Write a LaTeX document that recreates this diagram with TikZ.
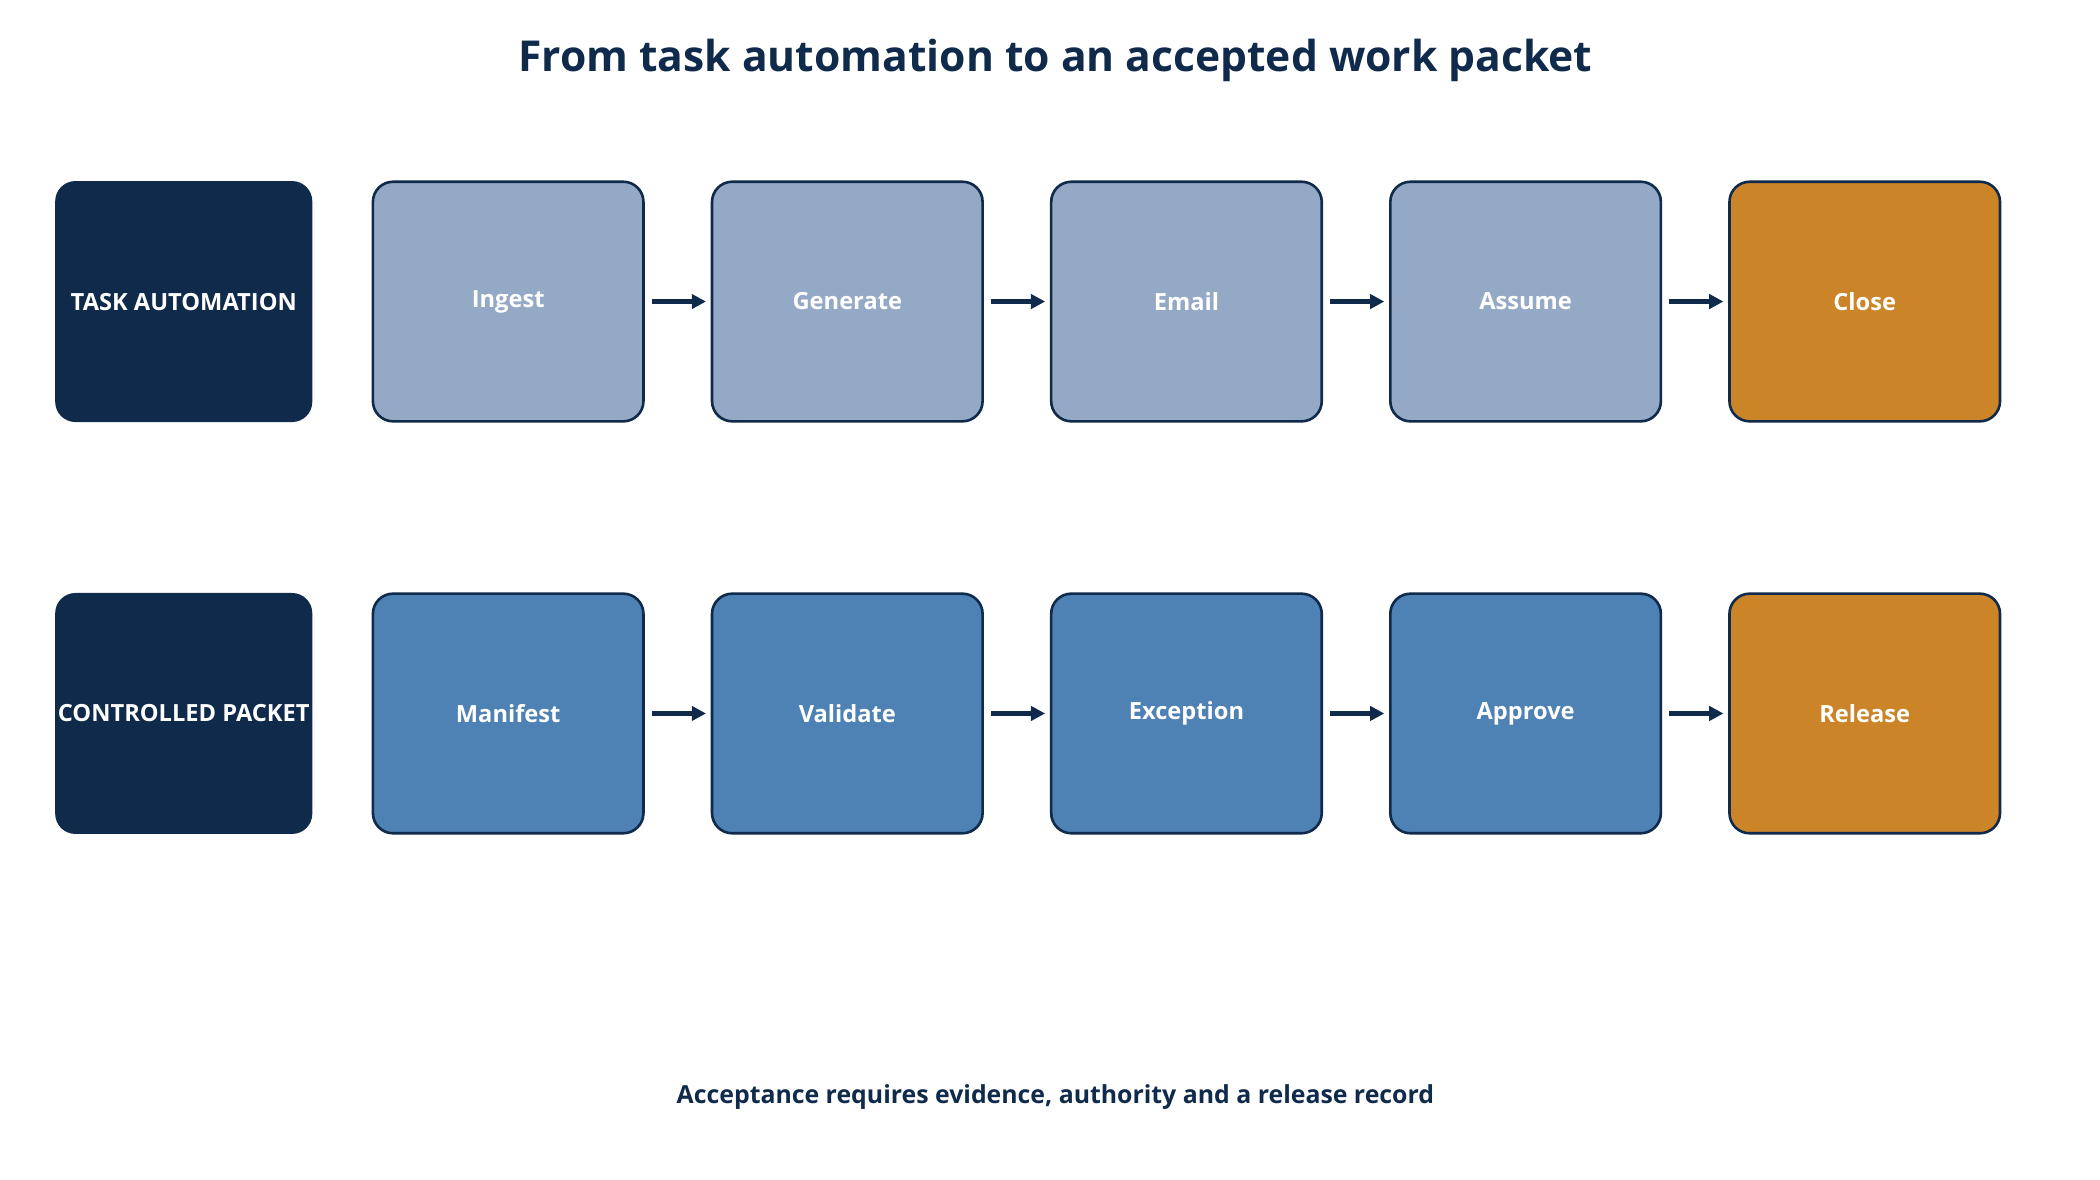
\documentclass[tikz,border=0pt]{standalone}
\usepackage{fontspec}
\setmainfont{Open Sans}
\usetikzlibrary{positioning, arrows.meta}
\definecolor{marino}{HTML}{0F2A4A}
\definecolor{gris}{HTML}{94A9C6}
\definecolor{azul}{HTML}{4E81B4}
\definecolor{naranja}{HTML}{CC8429}
\tikzset{
    lane/.style={rectangle, rounded corners=0.3cm, fill=marino, text=white, font=\bfseries\fontsize{10}{12}\selectfont, minimum width=3.82cm, minimum height=3.58cm, inner sep=0pt},
    stepA/.style={rectangle, rounded corners=0.3cm, fill=gris, draw=marino, line width=1.1pt, text=white, font=\bfseries\fontsize{10}{12}\selectfont, minimum width=4.02cm, minimum height=3.56cm},
    stepB/.style={stepA, fill=azul},
    stepC/.style={stepA, fill=naranja},
    flow/.style={-{Triangle[length=6pt,width=6pt]}, marino, line width=1.8pt, shorten <=3pt, shorten >=2pt},
}
\begin{document}
\begin{tikzpicture}
    \useasboundingbox (0,0) rectangle (31.2,-17.52);
    \node[font=\bfseries\fontsize{18}{22}\selectfont, text=marino] (title) at (15.68,-0.9) {From task automation to an accepted work packet};
    % first row
    \node[lane] (la) at (2.73,-4.48) {TASK AUTOMATION};
    \node[stepA] (a1) at (7.55,-4.48) {Ingest};
    \node[stepA, right=0.98cm of a1] (a2) {Generate};
    \node[stepA, right=0.98cm of a2] (a3) {Email};
    \node[stepA, right=0.98cm of a3] (a4) {Assume};
    \node[stepC, right=0.98cm of a4] (a5) {Close};
    % second row
    \node[lane] (lb) at (2.73,-10.6) {CONTROLLED PACKET};
    \node[stepB] (b1) at (7.55,-10.6) {Manifest};
    \node[stepB, right=0.98cm of b1] (b2) {Validate};
    \node[stepB, right=0.98cm of b2] (b3) {Exception};
    \node[stepB, right=0.98cm of b3] (b4) {Approve};
    \node[stepC, right=0.98cm of b4] (b5) {Release};
    \foreach \i/\j in {1/2,2/3,3/4,4/5} {
        \draw[flow] (a\i) -- (a\j);
        \draw[flow] (b\i) -- (b\j);
    }
    \node[font=\bfseries\fontsize{10.5}{13}\selectfont, text=marino] (foot) at (15.68,-16.3) {Acceptance requires evidence, authority and a release record};
\end{tikzpicture}
\end{document}
